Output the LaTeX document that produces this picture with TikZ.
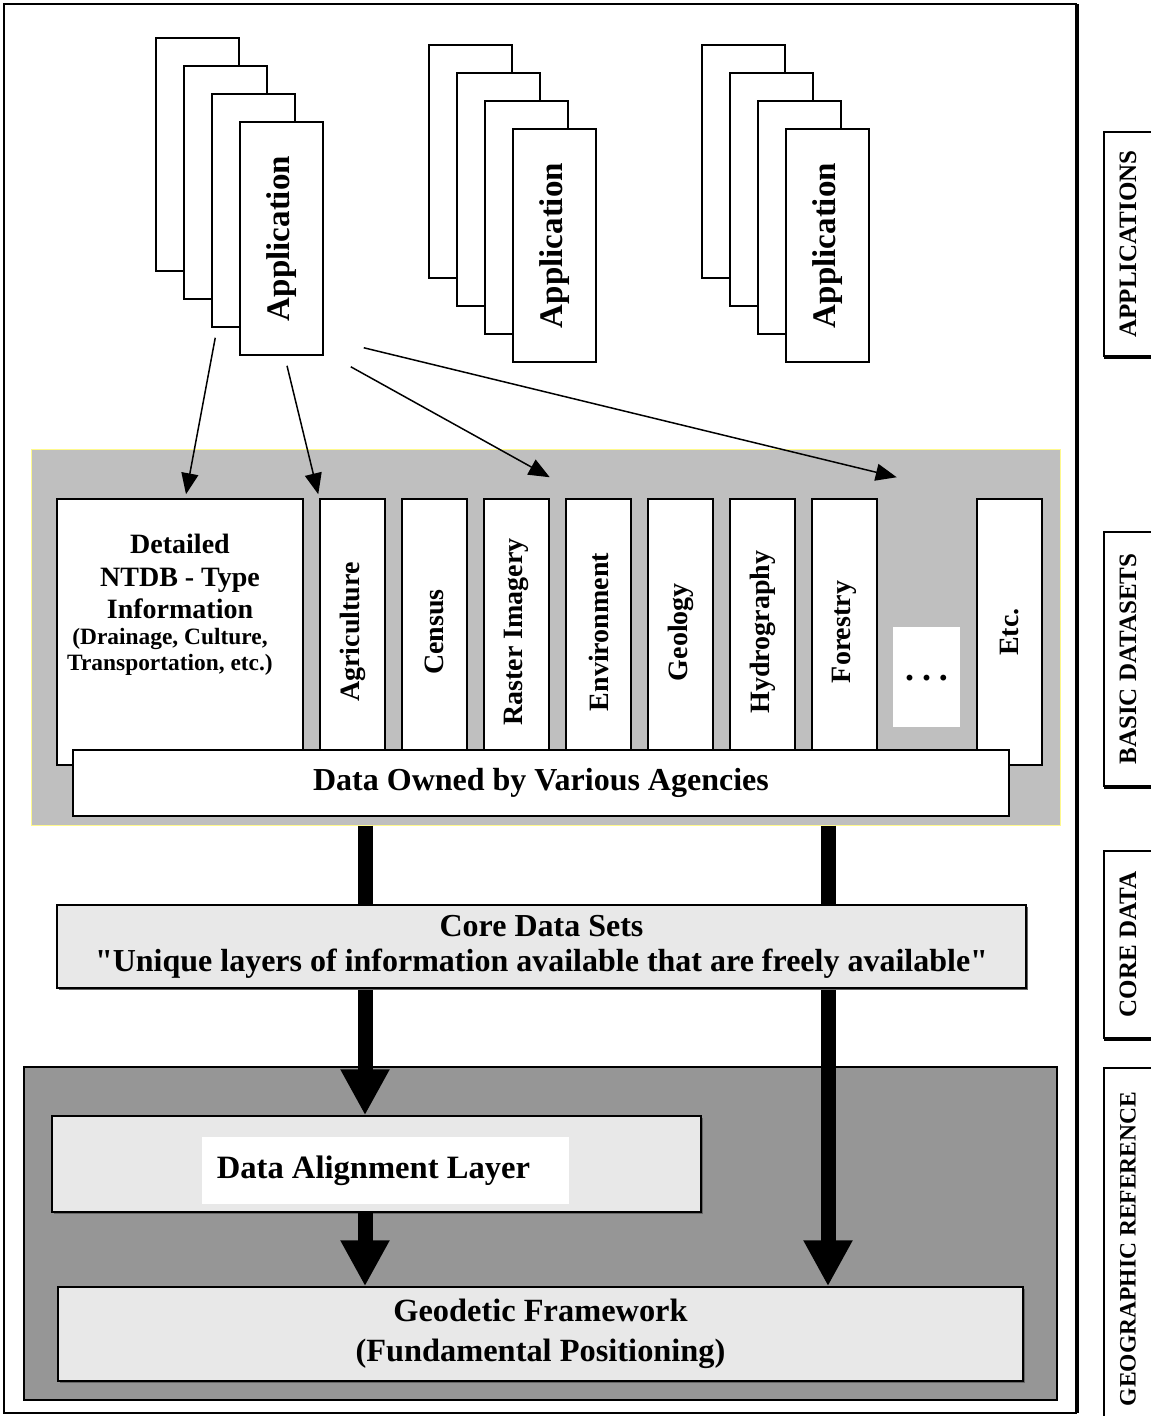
\documentclass[tikz,border=0pt]{standalone}
\usepackage{fontspec}
\usepackage{graphicx}
\setmainfont{Liberation Serif}
\usetikzlibrary{
	positioning,
	arrows.meta,
	shadows}
\tikzset{
	sheet/.style={
		draw,
		fill=white,
		line width=1.5pt,
		inner sep=0pt,
		minimum width=83pt,
		minimum height=233pt
	},
	front sheet/.style={
		sheet,
		font=\bfseries\fontsize{33}{38}\selectfont
	},
	basic panel/.style={
		draw=yellow!45,
		fill=black!25,
		line width=1pt,
		inner sep=0pt
	},
	data column/.style={
		draw,
		fill=white,
		line width=1.5pt,
		rotate=90,
		inner sep=0pt,
		minimum width=266pt,
		minimum height=65pt,
		font=\bfseries\fontsize{28}{32}\selectfont
	},
	plain box/.style={
		draw,
		fill=white,
		line width=1.5pt,
		inner sep=0pt
	},
	layer box/.style={
		draw,
		fill=black!9,
		line width=1.5pt,
		inner sep=0pt,
		align=center,
		drop shadow={shadow xshift=1.5pt, shadow yshift=-1.5pt, fill=black!60, opacity=1}
	},
	side label/.style={
		draw,
		fill=white,
		line width=1.2pt,
		inner sep=0pt,
		minimum width=48pt,
		font=\bfseries\fontsize{25}{28}\selectfont,
		drop shadow={shadow xshift=0pt, shadow yshift=-3pt, fill=black, opacity=1}
	},
	thin arrow/.style={
		line width=1.5pt,
		-{Triangle[length=21pt, width=17pt]}
	},
	big arrow/.style={
		line width=15pt,
		-{Triangle[length=46pt, width=46pt]}
	},
}

\begin{document}
\begin{tikzpicture}[x=1pt, y=-1pt]
	\path[use as bounding box, clip] (0,0) rectangle (1151,1416);

	% outer frame
	\node[plain box, line width=2pt, minimum width=1072pt, minimum height=1409pt,
		drop shadow={shadow xshift=2.5pt, shadow yshift=0pt, fill=black, opacity=1}]
		(frame) at (540,708.5) {};

	% application stacks
	\foreach \i/\x/\y in {1/281.5/238.5, 2/554.5/245.5, 3/827.5/245.5} {
		\foreach \k in {3,2,1}
			\node[sheet] (app\i-\k) at (\x-28*\k, \y-28*\k) {};
		\node[front sheet] (app\i) at (\x,\y) {\rotatebox{90}{Application}};
	}

	% basic datasets
	\node[basic panel, minimum width=1029pt, minimum height=376pt] (basic) at (545.5,637) {};
	\node[plain box, minimum width=246pt, minimum height=266pt] (ntdb) at (180,632) {};
	\node[align=center, inner sep=0pt, font=\bfseries\fontsize{28}{32.5}\selectfont,
		below=36pt of ntdb.north] (ntdbtitle) {Detailed\\NTDB - Type\\Information};
	\node[align=center, inner sep=0pt, font=\bfseries\fontsize{23.4}{26}\selectfont,
		below=9pt of ntdbtitle, xshift=-10pt] (ntdbsub) {(Drainage, Culture,\\Transportation, etc.)};
	\foreach \name/\txt [count=\n from 0] in {agri/Agriculture, census/Census,
		raster/Raster Imagery, env/Environment, geol/Geology, hydro/Hydrography, forest/Forestry}
		\node[data column] (\name) at (352.5+82*\n, 632) {\txt};
	\node[fill=white, inner sep=0pt, minimum width=67pt, minimum height=100pt,
		font=\bfseries\fontsize{36}{40}\selectfont] (dots) at (926.5,677)
		{\raisebox{-7pt}{.\hspace{8pt}.\hspace{8pt}.}};
	\node[data column] (etc) at (1009.5,632) {Etc.};
	\node[plain box, minimum width=936pt, minimum height=66pt,
		font=\bfseries\fontsize{32}{36}\selectfont] (owned) at (541,783) {Data Owned by Various Agencies};

	% applications to datasets
	\draw[thin arrow] ([shift={(4,10)}]app1-1.south west) -- ([shift={(6,-4)}]ntdb.north);
	\draw[thin arrow] ([shift={(5.5,10)}]app1.south) -- ([shift={(-1,-4)}]agri.north east);
	\draw[thin arrow] ([shift={(27,11)}]app1.south east) -- ([shift={(0,-21)}]raster.south east);
	\draw[thin arrow] ([shift={(40,-8)}]app1.south east) -- ([shift={(19,-21)}]forest.south east);

	% geographic reference
	\node[plain box, fill=black!41, minimum width=1033pt, minimum height=333pt] (georef) at (540.5,1233.5) {};
	\node[layer box, minimum width=649pt, minimum height=96pt] (align) at (376.5,1164) {};
	\node[layer box, minimum width=965pt, minimum height=94pt,
		font=\bfseries\fontsize{32.4}{40}\selectfont] (geod) at (540.5,1334) {Geodetic Framework\\(Fundamental Positioning)};

	% flows
	\path (365,0) coordinate (lx) (828,0) coordinate (rx);
	\draw[big arrow] (lx |- basic.south) -- (lx |- align.north);
	\draw[big arrow] (rx |- basic.south) -- (rx |- geod.north);
	\draw[big arrow] (lx |- align.south) -- (lx |- geod.north);
	\node[fill=white, inner sep=0pt, minimum width=367pt, minimum height=67pt,
		font=\bfseries\fontsize{32.6}{38}\selectfont] (aligntext) at (385.5,1170.5)
		{\hspace*{-24pt}Data Alignment Layer};

	% core data
	\node[layer box, minimum width=969pt, minimum height=83pt,
		font=\bfseries\fontsize{32}{35}\selectfont] (core) at (541.5,946.5)
		{Core Data Sets\\\textquotedbl Unique layers of information available that are freely available\textquotedbl};

	% side labels
	\node[side label, minimum height=224pt] (lapps) at (1128,244) {\rotatebox{90}{APPLICATIONS}};
	\node[side label, minimum height=254pt] (lbasic) at (1128,659) {\rotatebox{90}{BASIC DATASETS}};
	\node[side label, minimum height=187pt] (lcore) at (1128,944.5) {\rotatebox{90}{CORE DATA}};
	\node[side label, minimum height=362pt, font=\bfseries\fontsize{23.5}{28}\selectfont]
		(lgeo) at (1128,1249) {\rotatebox{90}{GEOGRAPHIC REFERENCE}};
\end{tikzpicture}
\end{document}
